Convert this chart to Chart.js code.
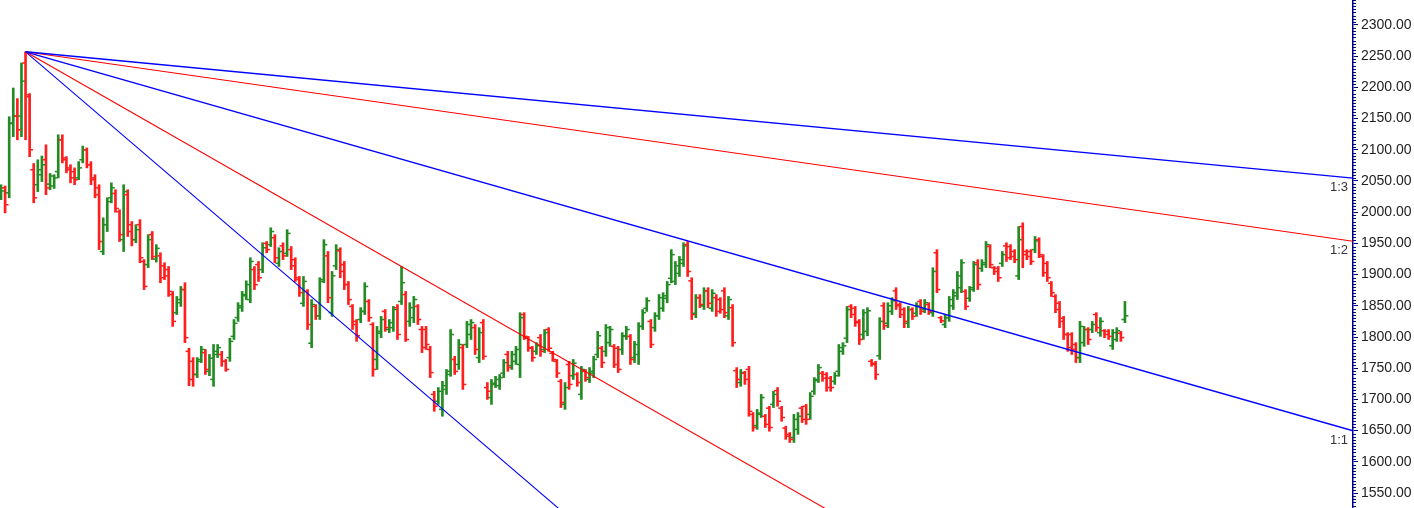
<!DOCTYPE html>
<html>
<head>
<meta charset="utf-8">
<script src="https://cdn.jsdelivr.net/npm/chart.js@4.4.1/dist/chart.umd.min.js"></script>
<style>
  html, body { margin: 0; padding: 0; background: #fff; }
  #wrap { width: 1414px; height: 508px; }
</style>
</head>
<body>
<div id="wrap"><canvas id="grafica"></canvas></div>
<script>
// precios diarios (OHLC), una barra por sesion
const opens = [
  2025,2039,2031,2142,2154,2154,2239,2185,2068,2044,2060,2084, 2045,
  2042,2065,2116,2084,2071,2065,2055,2084,2100,2076,2055,2039,1937,1980,2023, 2030,
  2001,1956,2028,1980,1956,1980,1921,1916,1964, 1925,
  1930,1914,1908,1868,1839,1855,1876,1777,1761,1740,1764,1775, 1745,
  1732,1772,1772,1761,1767,1801,1831,1847, 1868,
  1860,1908,1916,1908, 1950,1948,1959,1918,1946,1934,1940,1924,1892,1854,
  1873,1790,1849,1834,1892,1930,1839,1914,1938,1916, 1884,1849,1825,1828,1841,1857,1820,1764,1806,1841, 1812,
  1815,1847,1857,1868,1825,1831,1849,1812, 1812,1780,1708,1697,1684,1716,1745,
  1764,1756,1783, 1788,1804,1815,1767,1823,1719, 1703,1724,1722,1742,1772,
  1754,1761,1756,1836,1798, 1782,1777,1799,
  1780,1812,1774,1761,1729,1692,1756,1738,1740,1708,1745,
  1732,1742,1772,1782,1777,1791,1785,1782, 1780,1801,1801,1767,1772,1817,
  1846,1825,1815,1834,1846,1862,1894,1889,1902,1918,1948,1890,1838,1863,1850,1874,1846,1863,1860,1874,1834,1847,1746,1727,
  1742,1748,1676,1658, 1676,1673,1686, 1692,1714, 1686,1654,1644,1639,1652, 1686,1689,1676,1713,1732,
  1742,1740,1734,1729,1745, 1777,1798,1849,1846,1825,1804, 1809,1761,1758,1770,1850,1822,1841,1874,1852,1844,
  1822,1844, 1838,1857,1844,1852, 1839,1935,1831,1820,1831,1850, 1866,1879,1873,1862,1879,1919,1910,
  1916,1945,1911,1910, 1918,1946,1945,1937, 1898,1977,1937,1937,
  1940,1956,1929,1918,1886,1865,1854,1830,1804,1804,1788,1767,1791,1812,1812,1836,1807,1810,1809,1786,1796,1806,1828
];
const highs = [
  2044,2042,2153,2199,2182,2239,2257,2190,2078,2084,2090,2108, 2062,
  2060,2124,2124,2089,2076,2071,2081,2106,2103,2081,2060,2044,1991,2023,2047, 2036,
  2004,2044,2036,1985,1980,1988,1924,1964,1969, 1948,
  1935,1919,1913,1873,1865,1881,1887,1782,1767,1767,1785,1780, 1772,
  1788,1788,1777,1764,1798,1828,1855,1873, 1890,
  1927,1913,1921,1951, 1953,1975,1964,1943,1951,1972,1945,1927,1897,1897,
  1876,1860,1852,1895,1956,1937,1905,1948,1943,1921, 1889,1852,1828,1847,1887,1860,1823,1817,1833,1844, 1828,
  1849,1852,1913,1873,1855,1865,1852,1817, 1817,1785,1713,1719,1729,1748,1812,
  1769,1796,1788, 1825,1828,1820,1815,1828,1727, 1732,1737,1740,1764,1777,
  1777,1785,1839,1839,1801, 1785,1791,1804,
  1812,1815,1777,1764,1732,1727,1761,1764,1743,1753,1748,
  1751,1769,1809,1785,1820,1817,1788,1785, 1807,1817,1804,1793,1823,1844,
  1863,1828,1839,1868,1871,1889,1940,1921,1929,1951,1953,1895,1868,1868,1879,1879,1876,1868,1863,1879,1865,1852,1751,1748,
  1745,1753,1679,1684, 1708,1676,1689, 1713,1719, 1689,1657,1647,1676,1679, 1689,1692,1711,1735,1756,
  1745,1743,1737,1743,1788, 1791,1849,1852,1849,1828,1844, 1847,1764,1761,1831,1855,1855,1863,1879,1855,1847,
  1849,1847, 1855,1860,1860,1855, 1911,1940,1833,1836,1865,1876, 1905,1924,1876,1881,1921,1924,1924,
  1953,1948,1913,1913, 1937,1951,1948,1940, 1977,1983,1940,1940,
  1961,1959,1932,1921,1889,1868,1857,1833,1807,1807,1791,1825,1817,1815,1825,1839,1831,1812,1812,1812,1815,1809,1857
];
const lows = [
  2020,1999,2023,2121,2116,2121,2116,2089,2015,2033,2049,2028, 2036,
  2038,2055,2079,2063,2047,2044,2052,2079,2071,2044,2023,1940,1932,1969,2015, 2000,
  1953,1937,1961,1946,1951,1919,1876,1911,1924, 1920,
  1887,1892,1865,1817,1836,1849,1791,1722,1721,1735,1759,1740, 1738,
  1721,1767,1753,1745,1761,1796,1825,1841, 1860,
  1855,1876,1889,1903, 1935,1945,1919,1913,1924,1929,1908,1889,1865,1849,
  1812,1783,1828,1828,1887,1855,1833,1908,1895,1876, 1852,1812,1793,1823,1836,1825,1737,1748,1799,1809, 1807,
  1809,1796,1852,1793,1817,1823,1820,1775, 1780,1735,1681,1692,1673,1708,1737,
  1740,1748,1716, 1783,1796,1772,1759,1764,1700, 1692,1719,1716,1735,1745,
  1748,1756,1735,1796,1777, 1761,1772,1769,
  1775,1777,1761,1735,1687,1684,1716,1732,1721,1700,1729,
  1727,1735,1767,1751,1769,1785,1751,1743, 1772,1796,1756,1759,1756,1812,
  1841,1783,1809,1828,1841,1855,1887,1884,1897,1913,1897,1828,1831,1847,1844,1847,1841,1833,1838,1831,1828,1785,1719,1721,
  1724,1673,1649,1652, 1671,1655,1649, 1687,1689, 1665,1636,1631,1631,1644, 1663,1660,1668,1708,1727,
  1729,1713,1713,1724,1737, 1772,1791,1831,1817,1788,1796, 1802,1753,1732,1764,1812,1815,1836,1844,1831,1815,
  1815,1828, 1833,1836,1839,1836, 1833,1871,1823,1815,1825,1844, 1860,1871,1844,1857,1873,1876,1905,
  1911,1911,1900,1889, 1913,1921,1924,1919, 1892,1911,1924,1916,
  1935,1927,1897,1889,1865,1839,1815,1796,1777,1772,1759,1759,1785,1788,1807,1809,1801,1799,1796,1780,1793,1793,1823
];
const closes = [
  2034,2012,2143,2154,2132,2210,2188,2100,2023,2068,2076,2039, 2058,
  2055,2116,2087,2068,2055,2052,2071,2100,2076,2052,2028,1953,1980,2017,2039, 2006,
  1964,2033,1969,1956,1972,1927,1881,1956,1929, 1942,
  1895,1898,1873,1825,1860,1876,1799,1732,1740,1761,1780,1748, 1766,
  1777,1783,1761,1748,1793,1822,1850,1866, 1884,
  1921,1884,1895,1943, 1940,1969,1927,1937,1930,1966,1914,1895,1871,1889,
  1820,1852,1834,1889,1948,1863,1898,1940,1905,1884, 1860,1820,1802,1841,1881,1831,1748,1809,1828,1815, 1823,
  1844,1804,1887,1796,1847,1860,1828,1783, 1788,1743,1689,1713,1722,1740,1804,
  1745,1788,1724, 1820,1823,1780,1807,1769,1713, 1726,1732,1735,1759,1751,
  1772,1780,1831,1801,1783, 1767,1786,1777,
  1807,1782,1764,1742,1695,1719,1724,1758,1727,1748,1735,
  1745,1764,1802,1759,1815,1812,1756,1748, 1802,1812,1764,1788,1817,1839,
  1858,1788,1834,1863,1866,1884,1932,1914,1924,1946,1905,1836,1863,1852,1874,1854,1870,1841,1844,1839,1860,1791,1732,1743,
  1732,1681,1655,1678, 1703,1660,1655, 1708,1697, 1671,1641,1636,1668,1673, 1668,1668,1705,1730,1751,
  1734,1719,1719,1738,1783, 1786,1844,1836,1823,1796,1839, 1842,1756,1740,1825,1818,1850,1858,1850,1836,1825,
  1844,1833, 1850,1841,1855,1841, 1905,1876,1826,1831,1860,1871, 1898,1919,1849,1876,1916,1884,1919,
  1948,1916,1905,1895, 1932,1927,1929,1924, 1956,1932,1929,1921,
  1954,1932,1903,1895,1871,1844,1825,1804,1783,1780,1767,1817,1812,1796,1820,1815,1825,1804,1801,1807,1810,1799,1834
];

// abanico de Gann desde el maximo
const gannOriginBar = 6;
const gannOriginPrice = 2257;
const gannPricePerBar = 1.87;
const gannLabels = ['1:3', '1:2', '1:1', '2:1', '3:1'];
const gannFactors = [1 / 3, 1 / 2, 1, 2, 3];
const gannColors = ['#0000ff', '#ff0000', '#0000ff', '#ff0000', '#0000ff'];

// eje de precios
const yMin = 1526;
const yMax = 2340;
const yStep = 50;
const yMinorStep = 5;
const xMin = -0.25;
const xMax = 330.8;

const verde = '#238b23';
const rojo = '#ff1e1e';
const azulEje = '#00008b';

const n = Math.min(opens.length, highs.length, lows.length, closes.length);
const colores = [];
const rangos = [];
const aperturas = [];
const cierres = [];
for (let i = 0; i < n; i++) {
  const c = closes[i] >= opens[i] ? verde : rojo;
  colores.push(c);
  rangos.push({ x: i, y: [lows[i], highs[i]] });
  aperturas.push({ x: i - 0.5, y: opens[i] });
  cierres.push({ x: i + 0.5, y: closes[i] });
}

function precioGann(f, x) {
  return gannOriginPrice - f * gannPricePerBar * (x - gannOriginBar);
}

const lineasGann = gannFactors.map((f, k) => ({
  type: 'line',
  label: gannLabels[k],
  data: [
    { x: gannOriginBar, y: gannOriginPrice },
    { x: xMax, y: precioGann(f, xMax) }
  ],
  borderColor: gannColors[k],
  borderWidth: k === 0 || k === 2 ? 1.4 : 1.1,
  pointRadius: 0,
  pointHoverRadius: 0,
  fill: false,
  tension: 0,
  order: 0
}));

const marcasMenores = {
  id: 'marcasMenores',
  afterDraw(chart) {
    const y = chart.scales.y;
    const ctx = chart.ctx;
    ctx.save();
    ctx.strokeStyle = azulEje;
    ctx.lineWidth = 1;
    ctx.beginPath();
    for (let v = Math.ceil(yMin / yMinorStep) * yMinorStep; v <= yMax; v += yMinorStep) {
      if (v % yStep === 0) continue;
      const py = Math.round(y.getPixelForValue(v)) + 0.5;
      ctx.moveTo(y.left, py);
      ctx.lineTo(y.left + 3, py);
    }
    ctx.stroke();
    ctx.restore();
  }
};

const etiquetasGann = {
  id: 'etiquetasGann',
  afterDatasetsDraw(chart) {
    const xs = chart.scales.x;
    const ys = chart.scales.y;
    const ctx = chart.ctx;
    ctx.save();
    ctx.font = '13px "Liberation Sans", Arial, sans-serif';
    ctx.fillStyle = '#333';
    ctx.textAlign = 'right';
    ctx.textBaseline = 'top';
    gannFactors.forEach((f, k) => {
      const p = precioGann(f, xMax);
      if (p < yMin || p > yMax) return;
      ctx.fillText(gannLabels[k], xs.right - 5, ys.getPixelForValue(p) + 3);
    });
    ctx.restore();
  }
};

const ctx = document.getElementById('grafica').getContext('2d');
const chart = new Chart(ctx, {
  type: 'bar',
  data: {
    datasets: [
      ...lineasGann,
      {
        type: 'scatter',
        data: aperturas,
        pointStyle: 'line',
        pointRadius: 1.4,
        pointHoverRadius: 0,
        pointBorderWidth: 1.5,
        pointBorderColor: colores,
        pointBackgroundColor: colores,
        order: 1
      },
      {
        type: 'scatter',
        data: cierres,
        pointStyle: 'line',
        pointRadius: 1.4,
        pointHoverRadius: 0,
        pointBorderWidth: 1.5,
        pointBorderColor: colores,
        pointBackgroundColor: colores,
        order: 1
      },
      {
        type: 'bar',
        data: rangos,
        backgroundColor: colores,
        borderWidth: 0,
        barThickness: 2,
        grouped: false,
        order: 2
      }
    ]
  },
  options: {
    responsive: true,
    maintainAspectRatio: false,
    animation: false,
    events: [],
    layout: { padding: 0, autoPadding: false },
    plugins: {
      legend: { display: false },
      tooltip: { enabled: false }
    },
    scales: {
      x: {
        type: 'linear',
        display: false,
        min: xMin,
        max: xMax,
        offset: false
      },
      y: {
        position: 'right',
        min: yMin,
        max: yMax,
        afterFit(s) {
          s.width = 61;
          s.paddingTop = 0;
          s.paddingBottom = 0;
        },
        afterBuildTicks(s) { s.ticks = s.ticks.filter(t => t.value % yStep === 0); },
        border: { display: true, color: azulEje, width: 1.5 },
        grid: { drawOnChartArea: false, color: azulEje, tickLength: 5, tickWidth: 1 },
        ticks: {
          stepSize: yStep,
          includeBounds: false,
          autoSkip: false,
          padding: 3,
          color: '#222',
          font: { family: '"Liberation Sans", Arial, sans-serif', size: 14 },
          callback: v => v.toFixed(2)
        }
      }
    }
  },
  plugins: [marcasMenores, etiquetasGann]
});
</script>
</body>
</html>
